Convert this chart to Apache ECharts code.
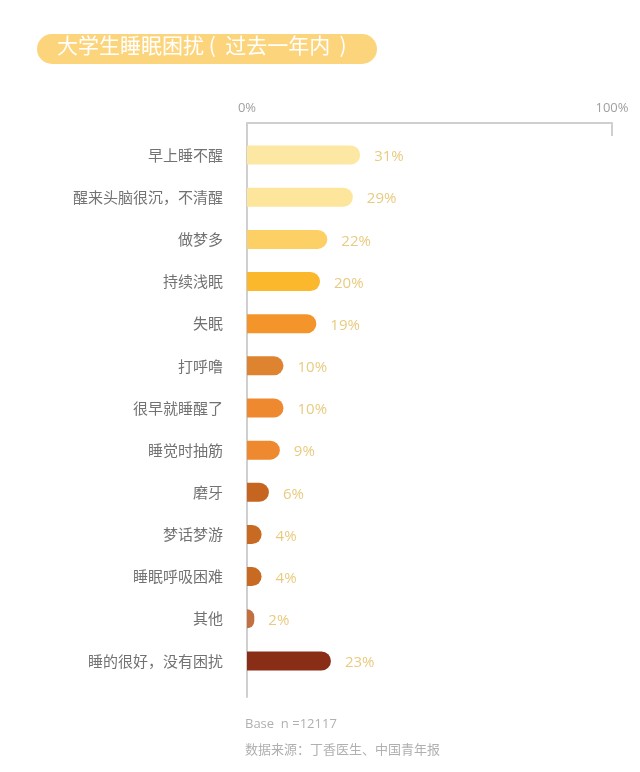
<!DOCTYPE html>
<html><head><meta charset="utf-8">
<script src="https://cdn.jsdelivr.net/npm/echarts@6/dist/echarts.min.js"></script>
<style>html,body{margin:0;padding:0;background:#fff}#c{width:640px;height:772px}</style>
</head><body><div id="c"></div>
<script>
var categories = ['早上睡不醒','醒来头脑很沉，不清醒','做梦多','持续浅眠','失眠','打呼噜','很早就睡醒了','睡觉时抽筋','磨牙','梦话梦游','睡眠呼吸困难','其他','睡的很好，没有困扰'];
var values = [31,29,22,20,19,10,10,9,6,4,4,2,23];
var colors = ['#fde8a3','#fde59b','#fcd065','#fbb82c','#f4952b','#de8431','#ee892f','#ee892f','#c6651f','#c96a23','#c96a23','#c27040','#8a2d16'];
var axisTicks = ['0%','100%'];

var chart = echarts.init(document.getElementById('c'));
var FONT = '"Noto Sans CJK SC", "Noto Sans", sans-serif';
chart.setOption({
  backgroundColor: '#fff',
  textStyle: {fontFamily: FONT},
  grid: [
    {left: 247, right: 28, top: 123, bottom: 75},
    {left: 247, right: 28, top: 134, bottom: 90}
  ],
  xAxis: [
    {gridIndex: 0, type: 'value', position: 'top', min: 0, max: 100, interval: 100,
     axisLine: {show: true, onZero: false, lineStyle: {color: '#cfcfcf', width: 2}},
     axisTick: {show: true, inside: true, length: 13, lineStyle: {color: '#cfcfcf', width: 2}},
     axisLabel: {show: true, color: '#a0a0a0', fontSize: 13, margin: 8,
       fontFamily: '"Open Sans", "Noto Sans", sans-serif',
       formatter: function (v) { return v === 0 ? axisTicks[0] : axisTicks[1]; }},
     splitLine: {show: false}},
    {gridIndex: 1, type: 'value', min: 0, max: 100, show: false}
  ],
  yAxis: [
    {gridIndex: 0, type: 'value', min: 0, max: 1,
     axisLine: {show: true, onZero: false, lineStyle: {color: '#cfcfcf', width: 2}},
     axisTick: {show: false}, axisLabel: {show: false}, splitLine: {show: false}},
    {gridIndex: 1, type: 'category', inverse: true, data: categories,
     axisLine: {show: false}, axisTick: {show: false},
     axisLabel: {color: '#727272', fontSize: 15, margin: 24, fontFamily: FONT}}
  ],
  series: [{
    type: 'bar', xAxisIndex: 1, yAxisIndex: 1,
    data: values.map(function (v, i) { return {value: v, itemStyle: {color: colors[i]}}; }),
    barWidth: 19,
    itemStyle: {borderRadius: [0, 9.5, 9.5, 0]},
    label: {show: true, position: 'right', distance: 14, offset: [0, 2], color: '#e8cb80', fontSize: 15,
      fontFamily: '"Open Sans", "Noto Sans", sans-serif', formatter: '{c}%'},
    animation: false
  }],
  graphic: [
    {type: 'rect', left: 37, top: 34, shape: {width: 340, height: 30, r: 15}, style: {fill: '#fcd47c'}},
    {type: 'text', left: 57, top: 35, style: {text: '大学生睡眠困扰 (  过去一年内  )', fill: '#ffffff', font: '21px "Noto Sans CJK SC", sans-serif'}},
    {type: 'text', left: 245, top: 718, style: {text: 'Base  n =12117', fill: '#b0b0b0', font: '13px "Open Sans", sans-serif'}},
    {type: 'text', left: 245, top: 743, style: {text: '数据来源：丁香医生、中国青年报', fill: '#b0b0b0', font: '13px "Noto Sans CJK SC", sans-serif'}}
  ],
  animation: false
});
</script></body></html>
